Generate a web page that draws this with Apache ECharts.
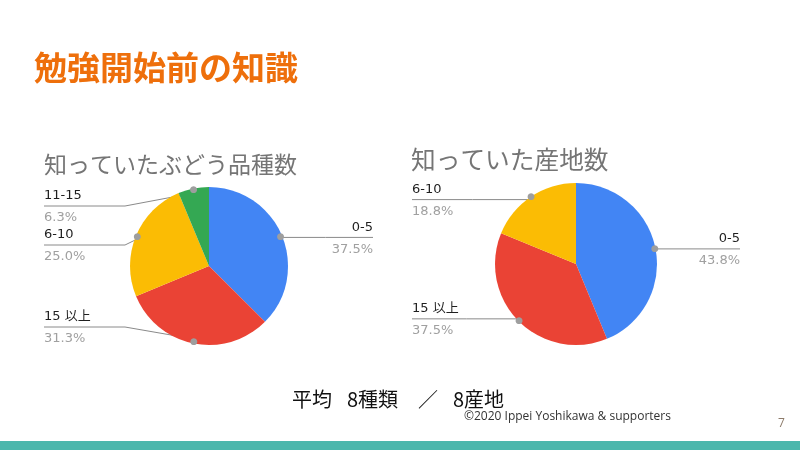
<!DOCTYPE html>
<html><head><meta charset="utf-8">
<script src="https://cdn.jsdelivr.net/npm/echarts@6/dist/echarts.min.js"></script>
<style>html,body{margin:0;padding:0;background:#fff}#c{width:800px;height:450px}</style>
</head><body><div id="c"></div>
<script>
// ---- data ----
const varietyCategories = ['0-5', '15 以上', '6-10', '11-15'];
const varietyPercents = [37.5, 31.3, 25.0, 6.3];
const regionCategories = ['0-5', '15 以上', '6-10'];
const regionPercents = [43.8, 37.5, 18.8];

const pageTitle = '勉強開始前の知識';
const varietyTitle = '知っていたぶどう品種数';
const regionTitle = '知っていた産地数';
const summaryParts = ['平均', '8種類', '／', '8産地'];
const creditText = '©2020 Ippei Yoshikawa & supporters';
const pageNumber = '7';

// ---- styles / layout ----
const sliceColors = {'0-5': '#4285F4', '15 以上': '#EA4335', '6-10': '#FBBC04', '11-15': '#34A853'};
const pies = [
  {cats: varietyCategories, vals: varietyPercents, center: [209, 266], r: 79, dotR: 74.5,
   leftEdge: 44, rightEdge: 373, lineY: {'11-15': 206, '6-10': 245, '15 以上': 327}},
  {cats: regionCategories, vals: regionPercents, center: [576, 264], r: 81, dotR: 77.5,
   leftEdge: 412, rightEdge: 740, lineY: {}}
];
const summaryX = [292, 347, 418, 453];
const CJK = '"Noto Sans CJK JP", "Noto Sans", sans-serif';

function makeLayout(p) {
  return function (params) {
    const pts = params.labelLinePoints;
    if (!pts || !pts.length) return {};
    const cx = p.center[0], cy = p.center[1];
    const dx = pts[0][0] - cx, dy = pts[0][1] - cy;
    const len = Math.hypot(dx, dy) || 1;
    const ux = dx / len, uy = dy / len;
    const dot = [cx + ux * p.dotR, cy + uy * p.dotR];
    const name = p.cats[params.dataIndex];
    const isRight = ux > 0;
    const ly = p.lineY[name] != null ? p.lineY[name] : dot[1];
    const edge = isRight ? p.rightEdge : p.leftEdge;
    let points;
    if (Math.abs(ly - dot[1]) < 0.5) {
      points = [dot, [(dot[0] + edge) / 2, ly], [edge, ly]];
    } else {
      const bx = isRight ? cx + p.r + 5 : cx - p.r - 5;
      points = [dot, [bx, ly], [edge, ly]];
    }
    return {x: edge, y: ly + 1, align: isRight ? 'right' : 'left', verticalAlign: 'middle', labelLinePoints: points};
  };
}

const series = [];
pies.forEach(function (p) {
  const data = p.cats.map(function (c, i) {
    return {name: c, value: p.vals[i], itemStyle: {color: sliceColors[c]}};
  });
  series.push({
    type: 'pie', center: p.center, radius: [0, p.r], startAngle: 90, clockwise: true,
    avoidLabelOverlap: false, silent: true, animation: false,
    emphasis: {disabled: true, scale: false},
    itemStyle: {borderWidth: 0},
    data: data,
    label: {
      show: true, position: 'outside',
      formatter: function (q) { return '{n|' + q.name + '}\n{p|' + q.value.toFixed(1) + '%}'; },
      rich: {
        n: {fontSize: 13, color: '#1f1f1f', lineHeight: 22, fontFamily: '"DejaVu Sans", ' + CJK},
        p: {fontSize: 13, color: '#a0a0a0', lineHeight: 22, fontFamily: '"DejaVu Sans", sans-serif'}
      }
    },
    labelLine: {show: true, length: 10, length2: 10, smooth: false, lineStyle: {color: '#8a8a8a', width: 1}},
    labelLayout: makeLayout(p)
  });
  // leader-line dots, placed by the pie's own inside-label layout
  series.push({
    type: 'pie', center: p.center, radius: [p.dotR - 12.5, p.dotR + 12.5], startAngle: 90, clockwise: true,
    silent: true, animation: false, z: 5,
    emphasis: {disabled: true, scale: false},
    itemStyle: {color: 'rgba(0,0,0,0)', borderWidth: 0},
    data: p.cats.map(function (c, i) { return {name: c, value: p.vals[i]}; }),
    label: {show: true, position: 'inside', formatter: '●', color: '#9e9e9e', fontSize: 9, fontFamily: 'DejaVu Sans'},
    labelLine: {show: false}
  });
});

function txt(text, x, y, font, fill, align) {
  return {type: 'text', x: x, y: y, silent: true,
    style: {text: text, font: font, fill: fill, align: align || 'left', verticalAlign: 'middle',
            textAlign: align || 'left', textVerticalAlign: 'middle'}};
}

const graphics = [
  txt(pageTitle, 34, 67, 'bold 33px ' + CJK, '#ee6f0b'),
  txt(varietyTitle, 44, 164, '23px ' + CJK, '#757575'),
  txt(regionTitle, 411, 160, '24.7px ' + CJK, '#757575'),
  txt(creditText, 464, 417, '12px "Open Sans", sans-serif', '#333333'),
  txt(pageNumber, 778, 424, '12px "Open Sans", sans-serif', '#8d7b6a'),
  {type: 'rect', silent: true, shape: {x: 0, y: 441, width: 800, height: 9}, style: {fill: '#4bb7ac'}}
];
summaryParts.forEach(function (s, i) {
  graphics.push(txt(s, summaryX[i], 399, '20px ' + CJK, '#111111'));
});

const chart = echarts.init(document.getElementById('c'), null, {renderer: 'canvas'});
chart.setOption({
  backgroundColor: '#ffffff',
  animation: false,
  series: series,
  graphic: graphics
});
</script>
</body></html>
